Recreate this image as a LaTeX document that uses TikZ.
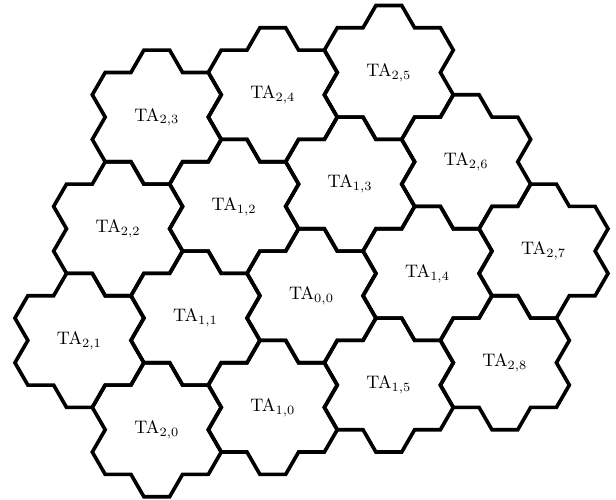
\documentclass[tikz,border=0pt]{standalone}
\usepackage{amsmath,amssymb}
\usepackage{tikz}
\usetikzlibrary{positioning,calc}

\tikzset{
    cellline/.style={line width=2pt, line join=miter},
    % one cell: a hexagon whose sides are zig-zags
    tacell/.pic={
        \draw[cellline] (-2,1.732) -- (-1,1.732) -- (-0.5,2.598) -- (0.5,2.598) -- (1,1.732)
            -- (2,1.732) -- (2.5,0.866) -- (2,0) -- (2.5,-0.866) -- (2,-1.732)
            -- (1,-1.732) -- (0.5,-2.598) -- (-0.5,-2.598) -- (-1,-1.732) -- (-2,-1.732)
            -- (-2.5,-0.866) -- (-2,0) -- (-2.5,0.866) -- cycle;
    },
    talabel/.style={font=\normalsize, inner sep=0pt}
}

\begin{document}
\begin{tikzpicture}[x=0.5cm, y=0.5cm]
    \useasboundingbox (-12.08,-7.89) rectangle (11.81,11.47);

    % centre
    \path (0,0) pic {tacell} node[talabel] (ta00) {TA$_{0,0}$};

    % first ring
    \path (-1.5,-4.330) pic {tacell} node[talabel] (ta10) {TA$_{1,0}$};
    \path (-4.5,-0.866) pic {tacell} node[talabel] (ta11) {TA$_{1,1}$};
    \path (-3,3.464) pic {tacell} node[talabel] (ta12) {TA$_{1,2}$};
    \path (1.5,4.330) pic {tacell} node[talabel] (ta13) {TA$_{1,3}$};
    \path (4.5,0.866) pic {tacell} node[talabel] (ta14) {TA$_{1,4}$};
    \path (3,-3.464) pic {tacell} node[talabel] (ta15) {TA$_{1,5}$};

    % second ring
    \path (-6,-5.196) pic {tacell} node[talabel] (ta20) {TA$_{2,0}$};
    \path (-9,-1.732) pic {tacell} node[talabel] (ta21) {TA$_{2,1}$};
    \path (-7.5,2.598) pic {tacell} node[talabel] (ta22) {TA$_{2,2}$};
    \path (-6,6.928) pic {tacell} node[talabel] (ta23) {TA$_{2,3}$};
    \path (-1.5,7.794) pic {tacell} node[talabel] (ta24) {TA$_{2,4}$};
    \path (3,8.660) pic {tacell} node[talabel] (ta25) {TA$_{2,5}$};
    \path (6,5.196) pic {tacell} node[talabel] (ta26) {TA$_{2,6}$};
    \path (9,1.732) pic {tacell} node[talabel] (ta27) {TA$_{2,7}$};
    \path (7.5,-2.598) pic {tacell} node[talabel] (ta28) {TA$_{2,8}$};
\end{tikzpicture}
\end{document}
